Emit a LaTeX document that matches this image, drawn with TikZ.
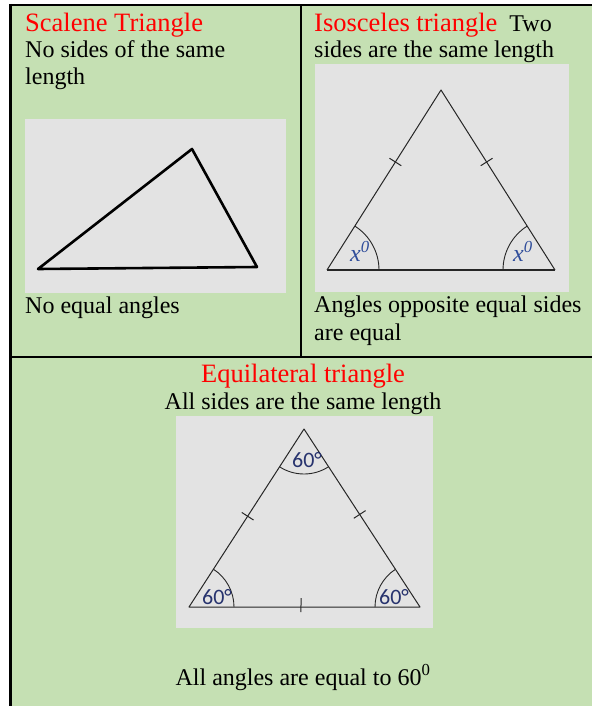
\documentclass[tikz,border=0pt]{standalone}
\usepackage{fontspec}
\setmainfont{Liberation Serif}
\newfontfamily\labelfont{Carlito}
\usetikzlibrary{calc,angles}
\definecolor{cellgreen}{HTML}{C5E0B3}
\definecolor{picgrey}{HTML}{E3E3E3}
\definecolor{headred}{HTML}{FF0000}
\definecolor{marknavy}{HTML}{27336E}
\definecolor{markblue}{HTML}{2E4C9A}

\begin{document}
\begin{tikzpicture}[x=1pt,y=-1pt,
  every node/.style={inner sep=0pt,font=\fontsize{24}{27.5}\selectfont},
  head/.style={text=headred,font=\fontsize{26.5}{30}\selectfont},
  body/.style={align=left,anchor=base west},
  rule/.style={line width=2pt,black},
  thin/.style={line width=1pt,black!85,line join=round},
  arcmark/.style={draw,black!85,line width=0.9pt},
  deg/.style={text=marknavy,font=\labelfont\fontsize{22}{24}\selectfont},
  xlab/.style={text=markblue,font=\fontsize{24}{26}\selectfont\itshape}]
  \useasboundingbox (0,0) rectangle (592,706);
  \fill[cellgreen] (10,5) rectangle (592,706);
  \fill[picgrey] (25,119) rectangle (286,293);
  \fill[picgrey] (315,64) rectangle (569,292);
  \fill[picgrey] (176,416) rectangle (433,628);
  \draw[rule] (9,5) -- (592,5);
  \draw[rule,line width=3pt] (10,4) -- (10,706);
  \draw[rule] (301,5) -- (301,357);
  \draw[rule] (10,357) -- (592,357);

  % scalene
  \node[head,anchor=base west] (scaT) at (25,32) {Scalene Triangle};
  \node[body] (scaD) at (25,85) {No sides of the same\\length};
  \node[body] (scaE) at (25,313) {No equal angles};
  \coordinate (sA) at (38,269);
  \coordinate (sB) at (192,149);
  \coordinate (sC) at (257,267);
  \draw[line width=2.6pt,line join=round] (sA) -- (sB) -- (sC) -- cycle;

  % isosceles
  \node[body] (isoT) at (314,32) {\textcolor{headred}{\fontsize{26.5}{30}\selectfont Isosceles triangle}\hspace{12pt}Two};
  \node[body] (isoD) at (314,58) {sides are the same length};
  \node[body] (isoE) at (314,340) {Angles opposite equal sides\\are equal};
  \coordinate (iP) at (441,90);
  \coordinate (iQ) at (327,270);
  \coordinate (iR) at (555,270);
  \draw[thin] (iQ) -- (iP) -- (iR);
  \draw[thin,line width=1.6pt] (iQ) -- (iR);
  \coordinate (iL) at ($(iQ)!0.6!(iP)$);
  \coordinate (iM) at ($(iR)!0.6!(iP)$);
  \foreach \t in {iL,iM}
    \draw[thin] ($(\t)!7pt!90:(iP)$) -- ($(\t)!7pt!-90:(iP)$);
  \pic[arcmark,angle radius=52pt] {angle=iR--iQ--iP};
  \pic[arcmark,angle radius=52pt] {angle=iP--iR--iQ};
  \node[xlab] (isoX1) at (360,251) {x\textsuperscript{0}};
  \node[xlab] (isoX2) at (523,251) {x\textsuperscript{0}};

  % equilateral
  \node[head,anchor=base] (equT) at (303,382) {Equilateral triangle};
  \node[anchor=base] (equD) at (303,409) {All sides are the same length};
  \node[anchor=base] (equE) at (303,685) {All angles are equal to 60\textsuperscript{0}};
  \coordinate (eT) at (304,429);
  \coordinate (eL) at (189,607);
  \coordinate (eR) at (420,607);
  \draw[thin] (eL) -- (eT) -- (eR) -- cycle;
  \coordinate (eM1) at ($(eL)!0.51!(eT)$);
  \coordinate (eM2) at ($(eR)!0.52!(eT)$);
  \coordinate (eM3) at (301,605);
  \foreach \t/\e in {eM1/eT,eM2/eT,eM3/eR}
    \draw[thin] ($(\t)!7pt!90:(\e)$) -- ($(\t)!7pt!-90:(\e)$);
  \pic[arcmark,angle radius=45pt] {angle=eL--eT--eR};
  \pic[arcmark,angle radius=45pt] {angle=eR--eL--eT};
  \pic[arcmark,angle radius=45pt] {angle=eT--eR--eL};
  \node[deg] (eA1) at (307,460) {60°};
  \node[deg] (eA2) at (217,597) {60°};
  \node[deg] (eA3) at (394,597) {60°};
\end{tikzpicture}
\end{document}
